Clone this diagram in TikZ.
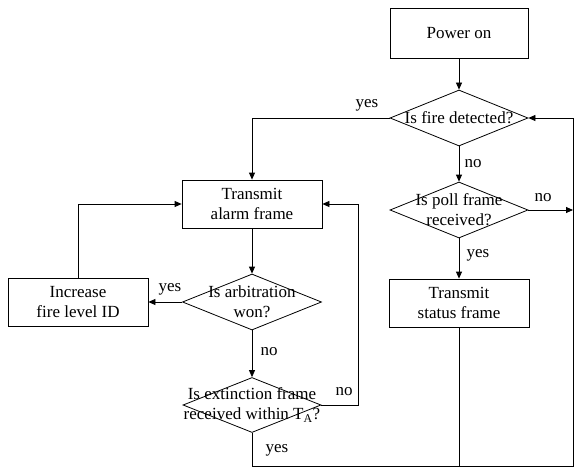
\documentclass[tikz,border=0pt]{standalone}
\usepackage{fontspec}
\setmainfont{Liberation Serif}
\usetikzlibrary{shapes.geometric,arrows.meta}
\begin{document}
\begin{tikzpicture}[x=1pt,y=-1pt,
  every node/.style={font=\fontsize{17}{20}\selectfont},
  box/.style={draw, line width=0.8pt, minimum width=140pt, minimum height=48pt,
    inner sep=0pt, align=center},
  decision/.style={draw, diamond, line width=0.8pt, inner sep=0pt,
    minimum width=138pt, minimum height=56pt},
  qtext/.style={align=center, inner sep=0pt},
  flow/.style={line width=0.8pt, -{Triangle[length=7pt,width=6pt]}},
  plain/.style={line width=0.8pt},
  lbl/.style={inner sep=0pt}]
\useasboundingbox (0,0) rectangle (575,476);

% process boxes
\node[box, minimum width=138pt, minimum height=50pt] (power) at (459,33) {Power on};
\node[box] (alarm)  at (252,204) {Transmit\\alarm frame};
\node[box] (status) at (459,303) {Transmit\\status frame};
\node[box] (inc)    at (78,302)  {Increase\\fire level ID};

% decisions (outline and question text as separate nodes)
\node[decision] (fire) at (459,118) {};
\node[qtext] (firet) at (459,118) {Is fire detected?};
\node[decision] (poll) at (459,210) {};
\node[qtext] (pollt) at (459,210) {Is poll frame\\received?};
\node[decision, minimum width=139pt] (arb) at (252,302) {};
\node[qtext] (arbt) at (252,302) {Is arbitration\\won?};
\node[decision, minimum height=55pt] (ext) at (252,405) {};
\node[qtext] (extt) at (252,405) {Is extinction frame\\received within T\textsubscript{A}?};

% return bus on the right and along the bottom
\coordinate (br) at (573,466);
\coordinate (pollend) at (573,210);

% connectors
\draw[flow] (power.south) -- (fire.north);
\draw[flow] (fire.west) -| (alarm.north);
\draw[flow] (fire.south) -- (poll.north);
\draw[flow] (poll.east) -- (pollend);
\draw[flow] (poll.south) -- (status.north);
\draw[plain] (status.south) -- (status.south |- br);
\draw[flow] (ext.south) |- (br) -- (br |- fire.east) -- (fire.east);
\draw[flow] (alarm.south) -- (arb.north);
\draw[flow] (arb.west) -- (inc.east);
\draw[flow] (inc.north) |- (alarm.west);
\draw[flow] (arb.south) -- (ext.north);
\draw[flow] (ext.east) -- ++(37,0) |- (alarm.east);

% branch labels
\node[lbl] (lyes1) at (367,105) {yes};
\node[lbl] (lno1)  at (473,164) {no};
\node[lbl] (lno2)  at (543,198) {no};
\node[lbl] (lyes2) at (478,255) {yes};
\node[lbl] (lyes3) at (170,289) {yes};
\node[lbl] (lno3)  at (269,352) {no};
\node[lbl] (lno4)  at (344,392) {no};
\node[lbl] (lyes4) at (277,450) {yes};
\end{tikzpicture}
\end{document}
